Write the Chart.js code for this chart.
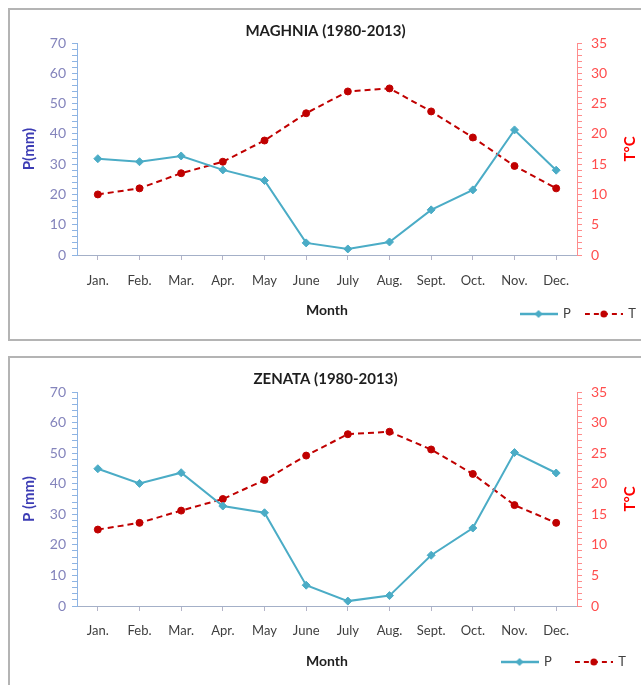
<!DOCTYPE html>
<html>
<head>
<meta charset="utf-8">
<script src="https://cdn.jsdelivr.net/npm/chart.js@4.4.1/dist/chart.umd.min.js"></script>
<style>
  html, body { margin: 0; padding: 0; background: #fff; }
  body { width: 641px; height: 685px; overflow: hidden; position: relative; }
  .box { position: absolute; left: 8px; width: 680px; border: 2px solid #b4b4b4; background: #fff; }
  #box1 { top: 8px; height: 329px; }
  #box2 { top: 356px; height: 340px; }
  canvas { position: absolute; left: 0; top: 0; }
</style>
</head>
<body>
<div class="box" id="box1"><canvas id="maghnia" width="631" height="329"></canvas></div>
<div class="box" id="box2"><canvas id="zenata" width="631" height="329"></canvas></div>
<script>
"use strict";

const months = ["Jan.", "Feb.", "Mar.", "Apr.", "May", "June", "July", "Aug.", "Sept.", "Oct.", "Nov.", "Dec."];

// precipitation (mm) and temperature (°C)
const maghniaP = [31.8, 30.8, 32.7, 28.1, 24.6, 4.0, 2.0, 4.3, 14.9, 21.5, 41.3, 28.0];
const maghniaT = [10.0, 11.0, 13.5, 15.4, 18.9, 23.4, 27.0, 27.5, 23.7, 19.4, 14.7, 11.0];
const zenataP = [44.9, 40.1, 43.6, 32.7, 30.5, 6.8, 1.6, 3.4, 16.6, 25.5, 50.2, 43.5];
const zenataT = [12.5, 13.6, 15.6, 17.5, 20.6, 24.6, 28.1, 28.5, 25.6, 21.6, 16.5, 13.6];

const pTickLabels = [0, 10, 20, 30, 40, 50, 60, 70];
const tTickLabels = [0, 5, 10, 15, 20, 25, 30, 35];

const P_COLOR = "#4bacc6";
const T_COLOR = "#c00000";

Chart.defaults.font.family = "Lato, 'Open Sans', sans-serif";
Chart.defaults.animation = false;

// legend swatch: line segment with the marker in the middle (Excel style)
function swatch(color, dashed, marker) {
  const c = document.createElement("canvas");
  c.width = 38;
  c.height = 10;
  const g = c.getContext("2d");
  g.strokeStyle = color;
  g.lineWidth = dashed ? 2 : 2.5;
  if (dashed) g.setLineDash([5, 4]);
  g.beginPath();
  g.moveTo(0, 5);
  g.lineTo(38, 5);
  g.stroke();
  g.setLineDash([]);
  g.fillStyle = color;
  g.beginPath();
  if (marker === "diamond") {
    g.moveTo(19, 1); g.lineTo(23, 5); g.lineTo(19, 9); g.lineTo(15, 5);
  } else {
    g.arc(19, 5, 3.5, 0, Math.PI * 2);
  }
  g.closePath();
  g.fill();
  return c;
}

const pSwatch = swatch(P_COLOR, false, "diamond");
const tSwatch = swatch(T_COLOR, true, "circle");

// moves the legend onto the "Month" row and draws the right axis title bottom-to-top
const extras = {
  id: "extras",
  afterLayout(chart, args, o) {
    const lg = chart.legend;
    if (!lg) return;
    const pad = chart.options.plugins.legend.labels.padding;
    const fs = chart.options.plugins.legend.labels.font.size;
    const dx = o.legendRight - lg.right;
    lg.left += dx;
    lg.right += dx;
    lg.top = o.legendY - pad - fs / 2;
    lg.height = 60;
    lg.bottom = lg.top + lg.height;
  },
  afterDraw(chart, args, o) {
    const { ctx, chartArea } = chart;
    ctx.save();
    ctx.translate(o.tTitleX, (chartArea.top + chartArea.bottom) / 2);
    ctx.rotate(-Math.PI / 2);
    ctx.fillStyle = "#ff0000";
    ctx.font = "bold 15px Lato, 'Open Sans', sans-serif";
    ctx.textAlign = "center";
    ctx.textBaseline = "middle";
    ctx.fillText("T°C", 0, 0);
    ctx.restore();
  },
};

function makeChart(id, title, pTitle, pData, tData, lay) {
  return new Chart(document.getElementById(id), {
    type: "line",
    data: {
      labels: months,
      datasets: [
        {
          label: "P",
          data: pData,
          yAxisID: "y",
          borderColor: P_COLOR,
          backgroundColor: P_COLOR,
          borderWidth: 2,
          pointStyle: "rectRot",
          pointRadius: 4,
          pointBorderWidth: 1,
          tension: 0,
        },
        {
          label: "T",
          data: tData,
          yAxisID: "y1",
          borderColor: T_COLOR,
          backgroundColor: T_COLOR,
          borderWidth: 2,
          borderDash: [6, 4],
          pointStyle: "circle",
          pointRadius: 3.5,
          pointBorderWidth: 1,
          tension: 0,
        },
      ],
    },
    options: {
      responsive: false,
      layout: { padding: { left: 0, right: 0, top: 0, bottom: lay.padBottom } },
      plugins: {
        title: {
          display: true,
          text: title,
          color: "#1e1e1e",
          font: { size: 15, weight: "bold" },
          padding: { top: 12, bottom: lay.titleBottom },
        },
        legend: {
          position: "bottom",
          align: "end",
          maxHeight: 1,
          labels: {
            usePointStyle: true,
            pointStyleWidth: 36,
            padding: lay.legendPad,
            color: "#404040",
            font: { size: 13 },
            generateLabels: () => [
              { text: "P", pointStyle: pSwatch, lineWidth: 0, hidden: false, datasetIndex: 0, fontColor: "#404040" },
              { text: "T", pointStyle: tSwatch, lineWidth: 0, hidden: false, datasetIndex: 1, fontColor: "#404040" },
            ],
          },
        },
        tooltip: { enabled: false },
        extras: { legendRight: lay.legendRight, legendY: lay.legendY, tTitleX: 620 },
      },
      scales: {
        x: {
          offset: true,
          grid: { offset: false, drawOnChartArea: false, tickLength: 5, color: "#b4b4c8" },
          border: { color: "#a4b0c8" },
          ticks: { color: "#404040", font: { size: 13 }, padding: lay.xPad, maxRotation: 0, autoSkip: false },
          title: {
            display: true,
            text: "Month",
            color: "#1e1e1e",
            font: { size: 14, weight: "bold" },
            padding: { top: 0, bottom: 0 },
          },
          afterFit: (s) => { s.height = 64; },
        },
        y: {
          position: "left",
          min: 0,
          max: 70,
          ticks: {
            stepSize: 2,
            autoSkip: false,
            padding: 6,
            color: "#8484bc",
            font: { size: 14 },
            callback: (v) => (pTickLabels.includes(v) ? String(v) : ""),
          },
          grid: { drawOnChartArea: false, tickLength: 5, color: "#8eb4e3" },
          border: { color: "#8eb4e3" },
          title: {
            display: true,
            text: pTitle,
            color: "#3c3cb4",
            font: { size: 15, weight: "bold" },
            padding: { top: 10, bottom: 0 },
          },
          afterFit: (s) => { s.width = 67; },
        },
        y1: {
          position: "right",
          min: 0,
          max: 35,
          ticks: {
            stepSize: 1,
            autoSkip: false,
            padding: 9,
            color: "#ff4d4d",
            font: { size: 14 },
            callback: (v) => (tTickLabels.includes(v) ? String(v) : ""),
          },
          grid: { drawOnChartArea: false, tickLength: 5, color: "#ff8c8c" },
          border: { color: "#ff8c8c" },
          afterFit: (s) => { s.width = 64; },
        },
      },
    },
    plugins: [extras],
  });
}

makeChart("maghnia", "MAGHNIA (1980-2013)", "P(mm)", maghniaP, maghniaT,
  { padBottom: 19, titleBottom: 3, xPad: 13, legendPad: 15, legendRight: 641, legendY: 304 });
makeChart("zenata", "ZENATA (1980-2013)", "P (mm)", zenataP, zenataT,
  { padBottom: 16, titleBottom: 4, xPad: 12, legendPad: 24, legendRight: 640, legendY: 304 });
</script>
</body>
</html>
